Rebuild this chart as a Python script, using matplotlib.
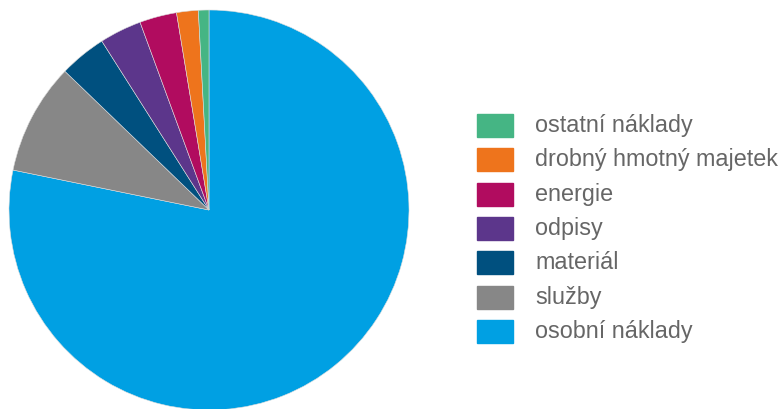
import matplotlib.pyplot as plt
from matplotlib.patches import Rectangle

# cost categories, in drawing order (clockwise from 12 o'clock)
labels = ["osobní náklady", "služby", "materiál", "odpisy", "energie",
          "drobný hmotný majetek", "ostatní náklady"]
shares = [78.2, 9.0, 3.8, 3.4, 3.0, 1.75, 0.85]
colors = ["#00a0e3", "#878787", "#00507f", "#5c368b", "#b10c5f",
          "#ee741c", "#45b584"]

W, H = 782, 409
fig = plt.figure(figsize=(W / 100, H / 100), dpi=100)

# pie: centre ~ (209, 210) px, radius ~200 px
cx, cy, r = 209, 210, 200
ax = fig.add_axes([(cx - r) / W, (H - cy - r) / H, 2 * r / W, 2 * r / H])
ax.pie(shares, colors=colors, startangle=90, counterclock=False, radius=1,
       wedgeprops=dict(edgecolor="#dddddd", linewidth=0.4))
ax.set_xlim(-1, 1)
ax.set_ylim(-1, 1)
ax.set_aspect("equal")
ax.axis("off")

# legend, listed top-down in reverse order
y0, step = 125.5, 34.33
for i, (lab, col) in enumerate(zip(labels[::-1], colors[::-1])):
    yc = y0 + i * step
    fig.patches.append(Rectangle((477 / W, (H - yc - 11.5) / H), 36 / W, 23 / H,
                                 transform=fig.transFigure, color=col))
    fig.text(535 / W, (H - yc) / H, lab, fontsize=16.8, color="#666666",
             family="Liberation Sans", va="center", ha="left")

fig.savefig("out.png", dpi=100)
